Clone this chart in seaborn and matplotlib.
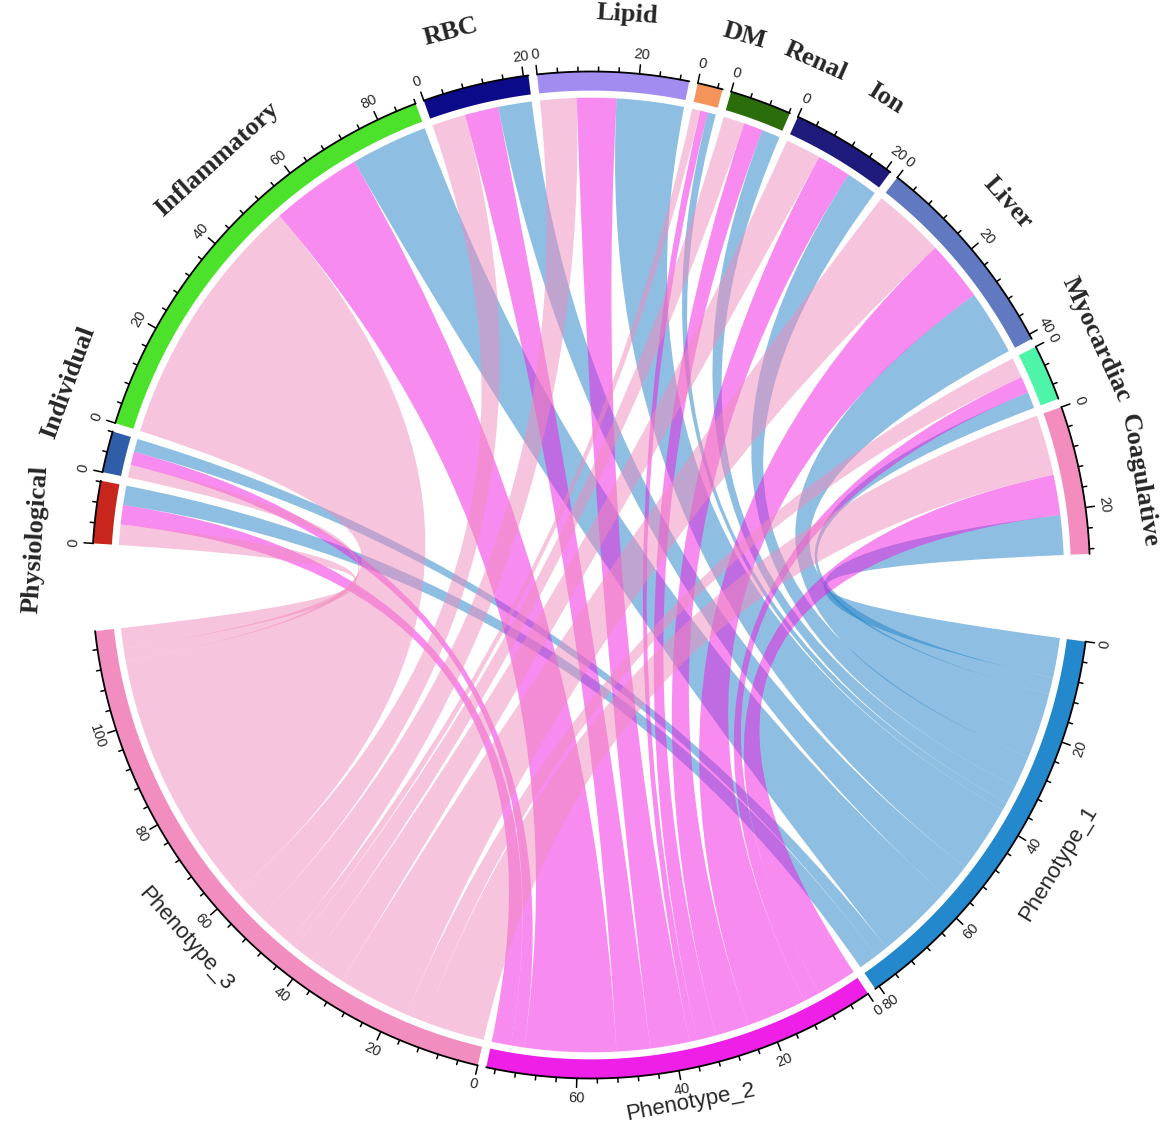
import numpy as np
import matplotlib
matplotlib.use("Agg")
import matplotlib.pyplot as plt
from matplotlib.path import Path
from matplotlib.patches import PathPatch
import seaborn as sns

# ---- data ----
categories = ["Physiological", "Individual", "Inflammatory", "RBC", "Lipid", "DM",
              "Renal", "Ion", "Liver", "Myocardiac", "Coagulative"]
phenotypes = ["Phenotype_1", "Phenotype_2", "Phenotype_3"]

# width of each link, one list per phenotype, in category order
to_phenotype_1 = [4.0, 2.7, 16.0, 7.0, 14.0, 1.7, 3.8, 6.6, 13.5, 3.4, 8.2]
to_phenotype_2 = [4.0, 2.8, 19.0, 7.0, 8.2, 1.6, 4.0, 7.0, 12.5, 3.4, 8.3]
to_phenotype_3 = [4.2, 2.6, 53.0, 7.0, 7.6, 1.7, 4.4, 7.4, 15.0, 4.2, 12.5]

track_colors = {
    "Phenotype_1": "#2488CC", "Phenotype_2": "#EE1FE6", "Phenotype_3": "#F18DBF",
    "Physiological": "#C8261C", "Individual": "#2F5DA8", "Inflammatory": "#4CE22B",
    "RBC": "#0B0B8A", "Lipid": "#A18DEF", "DM": "#F4935A", "Renal": "#2B6D0B",
    "Ion": "#1E1B7D", "Liver": "#6079C0", "Myocardiac": "#4EF5A9",
    "Coagulative": "#F28DBE",
}
link_palette = sns.color_palette(["#1F81C7", "#F119E1", "#F18BBD"])

# small nudges of the category labels (degrees) to keep them apart
label_shift = {"Physiological": 3.6, "Individual": -5.9, "Inflammatory": -4.3,
               "RBC": 1.2, "Lipid": -1.1, "DM": -2.2, "Renal": -3.9, "Ion": -1.3,
               "Liver": 1.5, "Myocardiac": 1.1, "Coagulative": -1.3}
pheno_label_r = {"Phenotype_1": 1.097, "Phenotype_2": 1.066, "Phenotype_3": 1.088}

sns.set_theme(style="white")
plt.rcParams["font.family"] = ["Liberation Sans", "DejaVu Sans"]

links = np.array([to_phenotype_1, to_phenotype_2, to_phenotype_3]).T  # cat x pheno
cat_tot = links.sum(axis=1)
phe_tot = links.sum(axis=0)

order = categories + phenotypes
size = dict(zip(categories, cat_tot)) | dict(zip(phenotypes, phe_tot))
small_gap, big_gap = 1.0, 10.0
gap_after = {s: small_gap for s in order}
gap_after["Coagulative"] = big_gap
gap_after["Phenotype_3"] = big_gap
unit = (360 - sum(gap_after.values())) / sum(size.values())

start = {}
a = 176.4
for s in order:
    start[s] = a
    a -= size[s] * unit + gap_after[s]


def ang(s, v):
    return start[s] - v * unit


def pol(theta, r):
    t = np.radians(theta)
    return r * np.cos(t), r * np.sin(t)


def rot(theta):
    return theta - 90 if np.sin(np.radians(theta)) >= 0 else theta + 90


R_OUT, R_IN, R_LINK = 1.0, 0.962, 0.948

fig = plt.figure(figsize=(11.7, 11.29), dpi=100)
ax = fig.add_axes([0, 0, 1, 1])
# circle is a touch taller than wide in the reference
ax.set_xlim(-591 / 499, 579 / 499)
ax.set_ylim(-554 / 503.5, 575 / 503.5)
ax.axis("off")

# positions of link roots inside every sector
cat_pos = {}
for i, c in enumerate(categories):
    off = 0.0
    for j in [2, 1, 0]:  # clockwise: phenotype_3, phenotype_2, phenotype_1
        cat_pos[(i, j)] = (off, off + links[i, j])
        off += links[i, j]
phe_pos = {}
for j, p in enumerate(phenotypes):
    off = 0.0
    for i in reversed(range(len(categories))):
        phe_pos[(i, j)] = (off, off + links[i, j])
        off += links[i, j]


def ribbon(a1, a2, b1, b2):
    verts, codes = [], []
    for k, t in enumerate(np.linspace(a1, a2, 40)):
        verts.append(pol(t, R_LINK))
        codes.append(Path.MOVETO if k == 0 else Path.LINETO)
    verts += [(0, 0), pol(b1, R_LINK)]
    codes += [Path.CURVE3, Path.CURVE3]
    for t in np.linspace(b1, b2, 40)[1:]:
        verts.append(pol(t, R_LINK))
        codes.append(Path.LINETO)
    verts += [(0, 0), pol(a1, R_LINK), (0, 0)]
    codes += [Path.CURVE3, Path.CURVE3, Path.CLOSEPOLY]
    return Path(verts, codes)


for j, p in enumerate(phenotypes):
    for i, c in enumerate(categories):
        if links[i, j] <= 0:
            continue
        ca, cb = cat_pos[(i, j)]
        pa, pb = phe_pos[(i, j)]
        path = ribbon(ang(c, ca), ang(c, cb), ang(p, pa), ang(p, pb))
        ax.add_patch(PathPatch(path, facecolor=link_palette[j], alpha=0.5,
                               edgecolor="none", zorder=1))

# outer grid track, axis and ticks
for s in order:
    t0, t1 = ang(s, 0), ang(s, size[s])
    tt = np.linspace(t0, t1, 100)
    xo, yo = pol(tt, R_OUT)
    xi, yi = pol(tt[::-1], R_IN)
    ax.fill(np.r_[xo, xi], np.r_[yo, yi], color=track_colors[s], lw=0, zorder=3)
    ax.plot(xo, yo, color="black", lw=1.3, zorder=4)
    for v in np.arange(0, size[s] + 1e-9, 4):
        th = ang(s, v)
        major = v % 20 == 0
        x0, y0 = pol(th, R_OUT)
        x1, y1 = pol(th, R_OUT + (0.018 if major else 0.009))
        ax.plot([x0, x1], [y0, y1], color="black", lw=1.1, zorder=4)
        if major:
            lx, ly = pol(th, 1.039)
            ax.text(lx, ly, f"{int(v)}", fontsize=10.5, ha="center", va="center",
                    rotation=rot(th), rotation_mode="anchor", zorder=5)

# sector names
for c in categories:
    th = (ang(c, 0) + ang(c, size[c])) / 2 + label_shift[c]
    x, y = pol(th, 1.115)
    ax.text(x, y, c, family=["Liberation Serif", "DejaVu Serif"], fontweight="bold",
            fontsize=19, ha="center", va="center", rotation=rot(th),
            rotation_mode="anchor")
for p in phenotypes:
    th = (ang(p, 0) + ang(p, size[p])) / 2
    x, y = pol(th, pheno_label_r[p])
    ax.text(x, y, p, fontsize=16, ha="center", va="center", rotation=rot(th),
            rotation_mode="anchor")

fig.savefig("out.png", dpi=100, facecolor="white")
